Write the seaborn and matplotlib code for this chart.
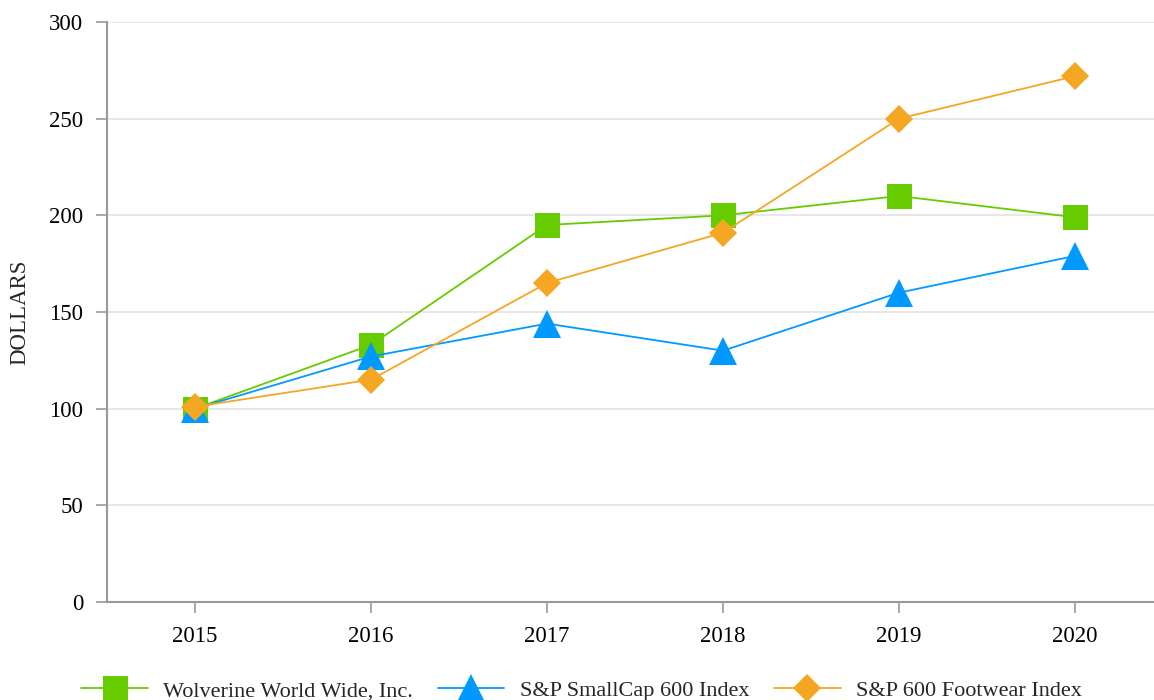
import numpy as np
import pandas as pd
import matplotlib
matplotlib.use("Agg")
import matplotlib.pyplot as plt
import seaborn as sns

# values
years = [2015, 2016, 2017, 2018, 2019, 2020]
wolverine = [100, 133, 195, 200, 210, 199]
smallcap = [100, 127, 144, 130, 160, 179]
footwear = [101, 115, 165, 191, 250, 272]
series_names = ["Wolverine World Wide, Inc.", "S&P SmallCap 600 Index", "S&P 600 Footwear Index"]
y_ticks = [0, 50, 100, 150, 200, 250, 300]

df = pd.DataFrame({
    "year": years * 3,
    "value": wolverine + smallcap + footwear,
    "series": np.repeat(series_names, len(years)),
})

sns.set_style("white")
plt.rcParams["font.family"] = ["Liberation Serif", "DejaVu Serif"]

fig = plt.figure(figsize=(11.54, 7), dpi=100)
ax = fig.add_axes([107 / 1154, 98 / 700, 1056 / 1154, 580 / 700])

colors = ["#66cc00", "#0099ff", "#f5a623"]
markers = ["s", "^", "D"]
sizes = [18, 20, 14.5]

for name, c, m, ms in zip(series_names, colors, markers, sizes):
    sns.lineplot(data=df[df["series"] == name], x="year", y="value", ax=ax,
                 color=c, marker=m, markersize=ms, markeredgewidth=0,
                 linewidth=1.3, label=name)

ax.set_xlim(2014.5, 2020.5)
ax.set_ylim(0, 300)
ax.set_xticks(years)
ax.set_xticklabels([str(y) for y in years])
ax.set_yticks(y_ticks)
ax.yaxis.grid(True, color="#e3e3e3", linewidth=1.2)
ax.set_axisbelow(True)
ax.tick_params(axis="both", labelsize=16.5, colors="#999999", labelcolor="black",
               length=8, width=1.2, direction="out")
ax.tick_params(axis="x", pad=9)
ax.tick_params(axis="y", pad=9)
for side in ["top", "right"]:
    ax.spines[side].set_visible(False)
for side in ["left", "bottom"]:
    ax.spines[side].set_color("#999999")
    ax.spines[side].set_linewidth(1.5)
ax.yaxis.set_ticks_position("left")
ax.xaxis.set_ticks_position("bottom")
ax.set_xlabel("")
ax.set_ylabel("DOLLARS", fontsize=16.5, labelpad=14)

ax.legend_.remove()
handles, labels = ax.get_legend_handles_labels()
fig.legend(handles, labels, loc="center", bbox_to_anchor=(0.504, 0.013), ncol=3,
           frameon=False, fontsize=16, handlelength=3.0, columnspacing=1.1,
           handletextpad=0.7)

fig.savefig("out.png", dpi=100)
